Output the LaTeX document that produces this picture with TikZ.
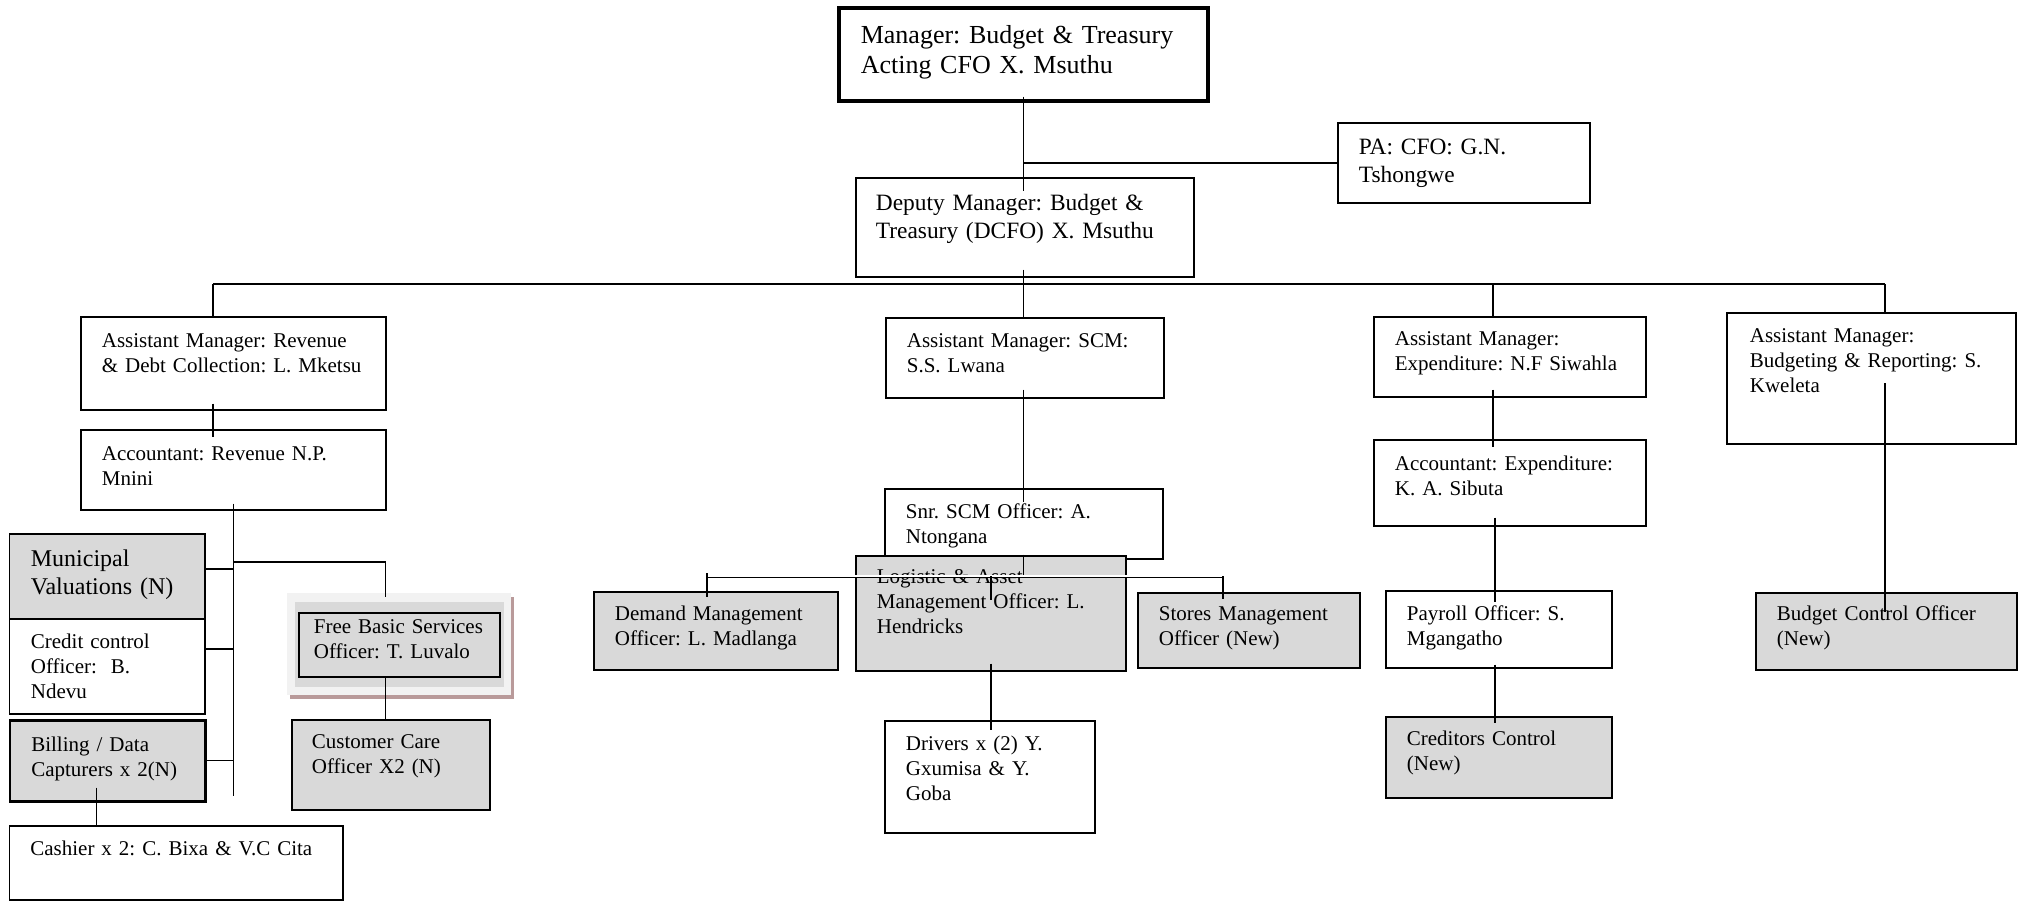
\documentclass[tikz,border=0pt]{standalone}
\usepackage{fontspec}
\setmainfont{Liberation Serif}
\usepackage{tikz}
\usepackage{xcolor}
\usetikzlibrary{calc,shadows}
\definecolor{ink}{HTML}{000000}
\definecolor{vacant}{HTML}{D9D9D9}
\definecolor{frame}{HTML}{F2F2F2}
\definecolor{shade}{HTML}{B99A9A}
\newcommand{\headsize}{\fontsize{13}{15}\selectfont}
\newcommand{\midsize}{\fontsize{11.7}{13.8}\selectfont}
\newcommand{\valsize}{\fontsize{12}{13.8}\selectfont}
\newcommand{\postsize}{\fontsize{10.5}{12.35}\selectfont}
\frenchspacing
\hyphenpenalty=10000
\exhyphenpenalty=10000
\tikzset{
  post/.style={draw=ink,fill=white,line width=0.85pt,anchor=north west,
               align=left,inner ysep=0pt,inner xsep=10.5pt,font=\postsize},
  newpost/.style={post,fill=vacant},
  headpost/.style={post,line width=1.8pt,font=\headsize},
  fbsframe/.style={anchor=north west,inner sep=0pt,fill=frame,
                   minimum width=112pt,minimum height=51pt,
                   drop shadow={shadow xshift=1.3pt,shadow yshift=-2pt,
                                fill=shade,opacity=1}},
  link/.style={draw=ink,line width=0.65pt},
  busline/.style={draw=ink,line width=0.55pt},
  subbus/.style={draw=ink,line width=0.4pt,double=white,double distance=0.7pt}
}

\begin{document}
\begin{tikzpicture}[x=1pt,y=-1pt]
    \useasboundingbox (0,0) rectangle (1012,450);

    % top of the chart
    \node[headpost,inner xsep=11pt,text width=162.5pt,text height=18pt,
          text depth=28.5pt] (mgr) at (418.5,3)
      {Manager: Budget \& Treasury\\Acting CFO X. Msuthu};
    \node[post,font=\midsize,inner xsep=10pt,text width=149pt,
          text height=16.5pt,text depth=33pt] (dep) at (427.5,88.5)
      {Deputy Manager: Budget \&\\Treasury (DCFO) X. Msuthu};
    \node[post,font=\midsize,text width=105pt,text height=16pt,
          text depth=24pt] (pa) at (668.5,61)
      {PA: CFO: G.N.\\Tshongwe};

    % revenue
    \node[post,text width=131.5pt,text height=15.5pt,text depth=31pt]
      (amrev) at (40,158)
      {Assistant Manager: Revenue\\\& Debt Collection: L. Mketsu};
    \node[post,text width=131.5pt,text height=15.5pt,text depth=24.5pt]
      (accrev) at (40,214.5)
      {Accountant: Revenue N.P.\\Mnini};
    \node[newpost,font=\valsize,inner xsep=10.75pt,text width=76.25pt,
          text height=16.5pt,text depth=26pt] (mv) at (4.25,266.5)
      {Municipal\\Valuations (N)};
    \node[post,inner xsep=10.75pt,text width=76.25pt,text height=15pt,
          text depth=32.5pt] (cc) at (4.25,309)
      {Credit control\\Officer:\ \ B.\\Ndevu};
    \node[newpost,line width=1.3pt,inner xsep=10.75pt,text width=76.25pt,
          text height=15.5pt,text depth=25pt] (bill) at (4.25,359.5)
      {Billing / Data\\Capturers x 2(N)};
    \node[post,text width=145.75pt,text height=15pt,text depth=22pt]
      (cash) at (4.25,412.5)
      {Cashier x 2: C. Bixa \& V.C Cita};
    \node[fbsframe] (fbsfr) at (143.5,296.5) {};
    \fill[vacant] ([shift={(4,4.5)}]fbsfr.north west)
      rectangle ([shift={(-4,-4.5)}]fbsfr.south east);
    \node[newpost,inner xsep=7.5pt,text width=85.5pt,text height=10.5pt,
          text depth=21.5pt] (fbs) at (149,306)
      {Free Basic Services\\Officer: T. Luvalo};
    \node[newpost,inner xsep=10pt,text width=79pt,text height=14.5pt,
          text depth=30.5pt] (cust) at (145.5,359.5)
      {Customer Care\\Officer X2 (N)};

    % supply chain
    \node[post,text width=118pt,text height=15pt,text depth=25pt]
      (amscm) at (442.5,158.5)
      {Assistant Manager: SCM:\\S.S. Lwana};
    \node[post,text width=118pt,text height=15pt,text depth=20pt]
      (snr) at (442,244)
      {Snr. SCM Officer: A.\\Ntongana};
    \node[newpost,text width=114pt,text height=14pt,text depth=43.5pt]
      (logi) at (427.5,277.5)
      {Logistic \& Asset\\Management Officer: L.\\Hendricks};
    \node[newpost,text width=101pt,text height=14.5pt,text depth=24.5pt]
      (dem) at (296.5,295.5)
      {Demand Management\\Officer: L. Madlanga};
    \node[newpost,text width=90pt,text height=14pt,text depth=23.5pt]
      (sto) at (568.5,296)
      {Stores Management\\Officer (New)};
    \node[post,text width=84pt,text height=15pt,text depth=41pt]
      (drv) at (442,360)
      {Drivers x (2) Y.\\Gxumisa \& Y.\\Goba};

    % expenditure
    \node[post,text width=115pt,text height=14.5pt,text depth=25.5pt]
      (amexp) at (686.5,158)
      {Assistant Manager:\\Expenditure: N.F Siwahla};
    \node[post,text width=115pt,text height=15.5pt,text depth=27.5pt]
      (accexp) at (686.5,219.5)
      {Accountant: Expenditure:\\K. A. Sibuta};
    \node[post,text width=92pt,text height=15pt,text depth=23.5pt]
      (pay) at (692.5,295)
      {Payroll Officer: S.\\Mgangatho};
    \node[newpost,text width=92pt,text height=14.5pt,text depth=26pt]
      (cred) at (692.5,358)
      {Creditors Control\\(New)};

    % budgeting
    \node[post,inner xsep=11.5pt,text width=121.5pt,text height=15pt,
          text depth=50.5pt] (ambud) at (863,156)
      {Assistant Manager:\\Budgeting \& Reporting: S.\\Kweleta};
    \node[newpost,text width=109.5pt,text height=14pt,text depth=24.5pt]
      (budctl) at (877.5,296)
      {Budget Control Officer\\(New)};

    % connectors
    \coordinate (busA) at (106.5,142);
    \coordinate (busB) at (746.5,142);
    \coordinate (busC) at (942.5,142);
    \coordinate (fbsdrop) at (192.8,281);
    \coordinate (subL) at (353.5,288);
    \coordinate (subR) at (611.5,288);

    \draw[link] ([yshift=3pt]mgr.south) -- ($(mgr.south |- dep.north)+(0,7)$);
    \draw[link] (pa.west) -- (pa.west -| mgr.south);
    \draw[link] ($(mgr.south |- dep.south)+(0,-4)$) -- (mgr.south |- busA);
    \draw[busline] (busA) -- (busC);
    \draw[link] (busA) -- (busA |- amrev.north);
    \draw[link] (mgr.south |- busA) -- (mgr.south |- amscm.north);
    \draw[link] (busB) -- (busB |- amexp.north);
    \draw[link] (busC) -- (busC |- ambud.north);

    \draw[link] ($(busA |- amrev.south)+(0,-3.5)$) -- ($(busA |- accrev.north)+(0,4)$);
    \draw[link] ([yshift=3.5pt]accrev.south) -- ($(accrev.south |- bill.south)+(0,-3.5)$);
    \draw[link] ($(mv.east)+(0,-3.75)$) -- ($(mv.east -| accrev.south)+(0,-3.75)$);
    \draw[link] ($(cc.east)+(0,-8.75)$) -- ($(cc.east -| accrev.south)+(0,-8.75)$);
    \draw[link] (bill.east) -- (bill.east -| accrev.south);
    \draw[link] (accrev.south |- fbsdrop) -- (fbsdrop) -- ($(fbsdrop |- fbsfr.north)+(0,2)$);
    \draw[link] (fbsdrop |- fbs.south) -- (fbsdrop |- cust.north);
    \draw[link] ($(bill.south)+(-5.5,-7.5)$) -- ($(bill.south |- cash.north)+(-5.5,0)$);

    \draw[link] ($(mgr.south |- amscm.south)+(0,-4.5)$) -- ($(mgr.south |- snr.north)+(0,7)$);
    \draw[link] ($(mgr.south |- snr.south)+(0,-2.5)$) -- (mgr.south |- subL);
    \draw[subbus] (subL) -- (subR);
    \draw[link] ($(subL)+(0,-1.5)$) -- ($(subL |- dem.north)+(0,3)$);
    \draw[link] (subR) -- ($(subR |- sto.north)+(0,3.5)$);
    \draw[link] (logi.north |- subL) -- ($(logi.north)+(0,22.5)$);
    \draw[link] ($(logi.south)+(0,-4)$) -- ($(logi.south |- drv.north)+(0,5)$);

    \draw[link] ($(busB |- amexp.south)+(0,-4)$) -- ($(busB |- accexp.north)+(0,4)$);
    \draw[link] ($(busB |- accexp.south)+(1,-4.5)$) -- ($(busB |- pay.north)+(1,6)$);
    \draw[link] ($(busB |- pay.south)+(1,-2)$) -- ($(busB |- cred.north)+(1,3.5)$);

    \draw[link] ($(busC |- ambud.north)+(0,35.5)$) -- ($(busC |- budctl.north)+(0,10)$);
\end{tikzpicture}
\end{document}
